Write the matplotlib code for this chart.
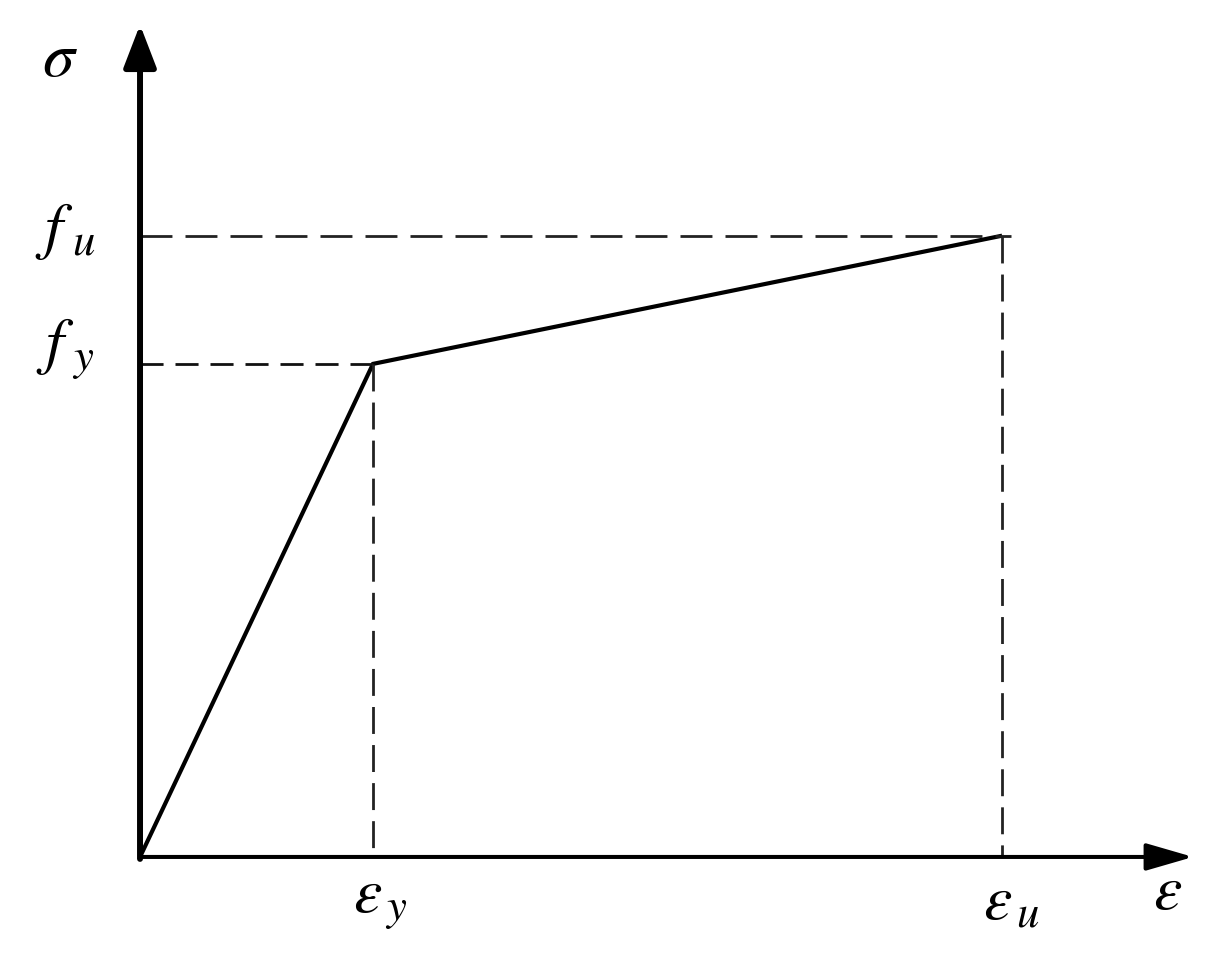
import matplotlib
matplotlib.use("Agg")
import matplotlib.pyplot as plt

# Data (normalised strain / stress)
strain = [0.0, 1.0, 3.7]      # 0, eps_y, eps_u
stress = [0.0, 1.0, 1.26]     # 0, f_y, f_u
x_labels = [r"$\varepsilon_{\,y}$", r"$\varepsilon_{\,u}$"]
y_labels = [r"$f_{\,\,y}$", r"$f_{\,\,u}$"]
axis_x_label = r"$\varepsilon$"
axis_y_label = r"$\sigma$"

plt.rcParams["mathtext.fontset"] = "stix"

fig = plt.figure(figsize=(12.22, 9.6), dpi=100)
ax = fig.add_axes([0, 0, 1, 1])
ax.set_xlim(-0.601, 4.644)
ax.set_ylim(-0.209, 1.738)
ax.axis("off")

# axes arrows
ax.annotate("", xy=(4.52, 0), xytext=(0, 0),
            arrowprops=dict(arrowstyle="-|>,head_length=1.45,head_width=0.42",
                            lw=2.9, color="black", shrinkA=0, shrinkB=0,
                            mutation_scale=20))
ax.annotate("", xy=(0, 1.688), xytext=(0, -0.004),
            arrowprops=dict(arrowstyle="-|>,head_length=1.3,head_width=0.5",
                            lw=4.3, color="black", shrinkA=0, shrinkB=0,
                            mutation_scale=20))

# curve
ax.plot(strain, stress, color="black", lw=3.0, solid_joinstyle="miter",
        solid_capstyle="butt")

# dashed guides
lw_d = 2.0
ax.plot([0, strain[1]], [stress[1], stress[1]], color="#111111", lw=lw_d,
        linestyle=(0, (8.3, 4.3)))
ax.plot([0, strain[2] + 0.04], [stress[2], stress[2]], color="#222222", lw=lw_d,
        linestyle=(0, (11.5, 4.7)))
ax.plot([strain[1], strain[1]], [stress[1], 0], color="#222222", lw=lw_d,
        linestyle=(0, (9.7, 4.0)))
ax.plot([strain[2], strain[2]], [stress[2], 0], color="#222222", lw=lw_d,
        linestyle=(0, (9.7, 4.0)))

fs = 46
ax.text(-0.343, 1.62, axis_y_label, fontsize=fs, ha="center", va="center")
ax.text(-0.32, 1.27, y_labels[1], fontsize=fs, ha="center", va="center")
ax.text(-0.32, 1.03, y_labels[0], fontsize=fs, ha="center", va="center")
ax.text(1.03, -0.09, x_labels[0], fontsize=fs, ha="center", va="center")
ax.text(3.74, -0.09, x_labels[1], fontsize=fs, ha="center", va="center")
ax.text(4.41, -0.07, axis_x_label, fontsize=fs, ha="center", va="center")

fig.savefig("out.png", dpi=100, facecolor="white")
